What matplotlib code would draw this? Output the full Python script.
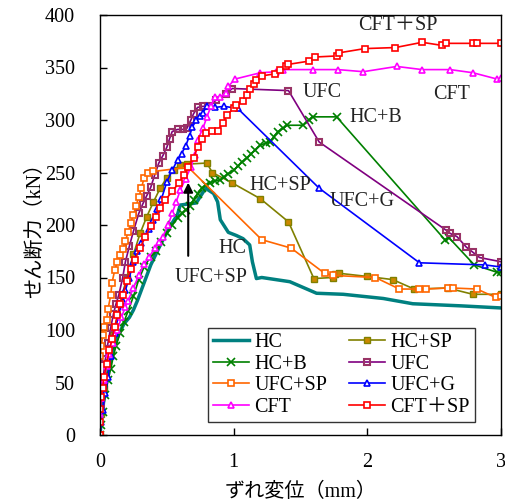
import matplotlib
matplotlib.use("Agg")
import matplotlib.pyplot as plt

plt.rcParams['font.family'] = ['Liberation Serif', 'Noto Sans CJK JP', 'DejaVu Sans']
plt.rcParams['mathtext.fontset'] = 'stix'

# ---------------- data ----------------
hc_x = [0, 0.01, 0.03, 0.06, 0.1, 0.14, 0.18, 0.22, 0.25, 0.28, 0.33, 0.38, 0.44, 0.5, 0.55, 0.58, 0.6,
        0.66, 0.72, 0.79, 0.85, 0.88, 0.9, 0.96, 1.02, 1.07, 1.12, 1.14, 1.17, 1.21, 1.42, 1.62, 1.82,
        2.12, 2.34, 2.7, 3.0]
hc_y = [0, 15, 35, 60, 82, 96, 106, 112, 119, 128, 145, 162, 178, 193, 204, 210, 219,
        220, 221, 235, 230, 222, 205, 193, 190, 187, 181, 165, 149, 150, 146, 135, 134,
        130, 125, 123, 121]

hcsp_x = [0, 0.01, 0.03, 0.06, 0.1, 0.15, 0.2, 0.25, 0.3, 0.35, 0.4, 0.45, 0.5, 0.55, 0.6, 0.65, 0.8,
          0.84, 0.99, 1.2, 1.41, 1.6, 1.74, 1.76, 1.79, 2.0, 2.19, 2.35, 2.6, 2.79, 3.0]
hcsp_y = [0, 20, 45, 70, 95, 125, 150, 172, 192, 208, 222, 235, 245, 252, 257, 258, 259,
          250, 240, 225, 203, 149, 150, 153, 154, 151, 148, 139, 140, 134, 134]

hcb_x = [0, 0.01, 0.02, 0.04, 0.06, 0.08, 0.1, 0.12, 0.15, 0.18, 0.21, 0.25, 0.29, 0.33, 0.38, 0.42,
         0.46, 0.5, 0.54, 0.58, 0.61, 0.64, 0.67, 0.70, 0.73, 0.76, 0.79, 0.82, 0.86, 0.9, 0.93, 0.96,
         1.0, 1.03, 1.06, 1.1, 1.13, 1.16, 1.2, 1.24, 1.27, 1.3, 1.33, 1.37, 1.4, 1.52, 1.56, 1.59,
         1.77, 2.58, 2.61, 2.8, 2.97, 3.0]
hcb_y = [0, 10, 22, 38, 52, 63, 75, 85, 97, 108, 118, 132, 148, 160, 170, 175,
         184, 192, 200, 207, 211, 214, 218, 224, 230, 235, 238, 240, 242, 243, 246, 249,
         252, 256, 260, 264, 268, 271, 276, 278, 279, 284, 289, 292, 295, 295, 300, 303,
         303, 186, 188, 162, 155, 155]

ufc_x = [0, 0.01, 0.02, 0.04, 0.06, 0.08, 0.1, 0.12, 0.14, 0.17, 0.19, 0.22, 0.25, 0.29, 0.32, 0.35,
         0.38, 0.41, 0.44, 0.47, 0.5, 0.52, 0.54, 0.58, 0.62, 0.65, 0.68, 0.7, 0.73, 0.77, 0.81, 0.87,
         0.94, 0.99, 1.41, 1.64, 2.59, 2.62, 2.67, 2.74, 2.79, 2.84, 3.0]
ufc_y = [0, 30, 50, 72, 88, 102, 115, 125, 133, 150, 165, 180, 194, 211, 220, 228,
         236, 248, 259, 266, 274, 282, 289, 291, 291, 292, 300, 306, 312, 313, 313, 319,
         325, 330, 328, 279, 195, 192, 189, 179, 174, 169, 165]

ufcsp_x = [0, 0.0, 0.01, 0.02, 0.03, 0.05, 0.06, 0.08, 0.09, 0.11, 0.13, 0.15, 0.17, 0.19, 0.21, 0.23,
           0.25, 0.27, 0.29, 0.31, 0.33, 0.36, 0.4, 0.66, 1.21, 1.43, 1.68, 1.74, 2.06, 2.24, 2.39,
           2.44, 2.6, 2.64, 2.82, 2.96, 3.0]
ufcsp_y = [0, 75, 85, 95, 103, 110, 120, 133, 145, 157, 165, 171, 177, 185, 193, 202,
           210, 218, 227, 235, 245, 250, 251, 255, 186, 178, 154, 152, 150, 139, 139,
           139, 140, 140, 139, 131, 132]

ufcg_x = [0, 0.01, 0.02, 0.04, 0.06, 0.08, 0.11, 0.14, 0.17, 0.19, 0.22, 0.25, 0.28, 0.31, 0.34, 0.37,
          0.4, 0.43, 0.46, 0.5, 0.54, 0.58, 0.61, 0.64, 0.67, 0.69, 0.72, 0.75, 0.77, 0.8, 0.86, 0.93,
          1.03, 1.64, 2.39, 2.88, 3.0]
ufcg_y = [0, 12, 24, 40, 55, 75, 97, 115, 128, 138, 150, 165, 175, 183, 190, 196,
          205, 215, 225, 241, 252, 262, 268, 275, 285, 293, 300, 304, 307, 313, 312, 313,
          311, 235, 164, 162, 160]

cft_x = [0, 0.0, 0.01, 0.03, 0.05, 0.07, 0.1, 0.13, 0.16, 0.19, 0.21, 0.25, 0.29, 0.33, 0.37, 0.41,
         0.44, 0.47, 0.51, 0.54, 0.57, 0.6, 0.64, 0.68, 0.71, 0.73, 0.77, 0.8, 0.83, 0.86, 0.9, 0.94,
         0.96, 1.01, 1.2, 1.32, 1.37, 1.59, 1.78, 1.97, 2.22, 2.41, 2.62, 2.79, 2.97, 3.0]
cft_y = [0, 20, 35, 52, 66, 77, 88, 100, 112, 122, 128, 140, 152, 163, 170, 178,
         184, 189, 200, 211, 222, 233, 244, 255, 267, 281, 292, 303, 313, 322, 322, 326,
         332, 339, 345, 346, 348, 348, 348, 346, 351, 348, 348, 345, 339, 340]

cftsp_x = [0, 0.0, 0.0, 0.01, 0.02, 0.03, 0.05, 0.07, 0.09, 0.11, 0.13, 0.15, 0.17, 0.2, 0.23, 0.26,
           0.3, 0.34, 0.38, 0.42, 0.45, 0.49, 0.54, 0.59, 0.63, 0.66, 0.7, 0.73, 0.76, 0.79, 0.84,
           0.88, 0.92, 0.95, 1.0, 1.02, 1.07, 1.1, 1.12, 1.15, 1.17, 1.21, 1.31, 1.35, 1.39, 1.41,
           1.56, 1.61, 1.77, 1.79, 1.98, 2.21, 2.41, 2.56, 2.59, 2.79, 2.82, 3.0]
cftsp_y = [0, 12, 25, 36, 45, 55, 68, 81, 91, 103, 114, 125, 133, 147, 158, 167,
           178, 189, 199, 208, 216, 224, 232, 240, 248, 255, 264, 274, 282, 288, 290,
           290, 297, 305, 311, 314, 318, 324, 330, 334, 338, 342, 344, 348, 351, 353,
           356, 360, 361, 364, 368, 369, 374, 371, 373, 373, 373, 373]

series_labels = ['HC', 'HC+SP', 'HC+B', 'UFC', 'UFC+SP', 'UFC+G', 'CFT', 'CFT＋SP']

annot_texts = ['CFT＋SP', 'UFC', 'CFT', 'HC+B', 'HC+SP', 'UFC+G', 'HC', 'UFC+SP']
annot_x = [2.23, 1.66, 2.63, 2.06, 1.35, 1.96, 0.99, 0.83]
annot_y = [390, 326, 324, 302, 238, 222, 178, 150]

x_ticks = [0, 1, 2, 3]
y_ticks = [0, 50, 100, 150, 200, 250, 300, 350, 400]

# ---------------- figure ----------------
fs = 14.5
fig = plt.figure(figsize=(5.05, 5.01), dpi=100)
ax = fig.add_axes([100 / 505, 1 - 435 / 501, 401 / 505, 420 / 501])

ms = 4.3
h = {}
h['HC+SP'], = ax.plot(hcsp_x, hcsp_y, color='#808000', lw=1.2, marker='s', ms=ms,
                      mfc='#CC8800', mec='#808000', mew=1.0, label=series_labels[1], zorder=1.5)
h['HC'], = ax.plot(hc_x, hc_y, color='#008080', lw=2.5, label=series_labels[0], zorder=1.8)
h['HC+B'], = ax.plot(hcb_x, hcb_y, color='#008000', lw=1.2, marker='x', ms=ms + 1,
                     mec='#008000', mew=1.2, label=series_labels[2])
h['UFC'], = ax.plot(ufc_x, ufc_y, color='#800080', lw=1.2, marker='s', ms=ms,
                    mfc='none', mec='#993366', mew=1.5, label=series_labels[3])
h['UFC+SP'], = ax.plot(ufcsp_x, ufcsp_y, color='#FF6600', lw=1.2, marker='s', ms=ms,
                       mfc='white', mec='#FF6600', mew=1.2, label=series_labels[4])
h['UFC+G'], = ax.plot(ufcg_x, ufcg_y, color='#0000FF', lw=1.2, marker='^', ms=ms + 0.5,
                      mfc='white', mec='#0000FF', mew=1.2, label=series_labels[5])
h['CFT'], = ax.plot(cft_x, cft_y, color='#FF00FF', lw=1.2, marker='^', ms=ms + 0.5,
                    mfc='white', mec='#FF00FF', mew=1.2, label=series_labels[6])
h['CFT＋SP'], = ax.plot(cftsp_x, cftsp_y, color='#FF0000', lw=1.2, marker='s', ms=ms,
                       mfc='white', mec='#FF0000', mew=1.2, label=series_labels[7])

ax.set_xlim(0, 3)
ax.set_ylim(0, 400)
ax.set_xticks(x_ticks)
ax.set_yticks(y_ticks)
ax.tick_params(direction='in', length=5, width=1, labelsize=fs, top=False, right=False)
ax.tick_params(axis='y', pad=18)
ax.tick_params(axis='x', pad=13)
for s in ax.spines.values():
    s.set_linewidth(1.0)

ax.set_xlabel('ずれ変位（mm）', fontsize=fs, labelpad=8)
ax.set_ylabel('せん断力（kN）', fontsize=fs, labelpad=0)

for t, x, y in zip(annot_texts, annot_x, annot_y):
    ax.text(x, y, t, fontsize=fs, ha='center', va='center', color='#222222')

ax.annotate('', xy=(0.66, 243), xytext=(0.66, 168),
            arrowprops=dict(arrowstyle='-|>', color='black', lw=1.5, mutation_scale=14))

order = ['HC', 'HC+B', 'UFC+SP', 'CFT', 'HC+SP', 'UFC', 'UFC+G', 'CFT＋SP']
leg = ax.legend([h[k] for k in order], order, ncol=2, loc='lower left',
                bbox_to_anchor=(0.269, 0.031), borderaxespad=0, fontsize=fs,
                frameon=True, fancybox=False, edgecolor='#333333', framealpha=1,
                handlelength=1.8, handletextpad=0.25, columnspacing=1.1,
                labelspacing=0.12, borderpad=0.25, markerscale=1.0)
leg.get_frame().set_linewidth(1.0)

fig.savefig('out.png', dpi=100)
